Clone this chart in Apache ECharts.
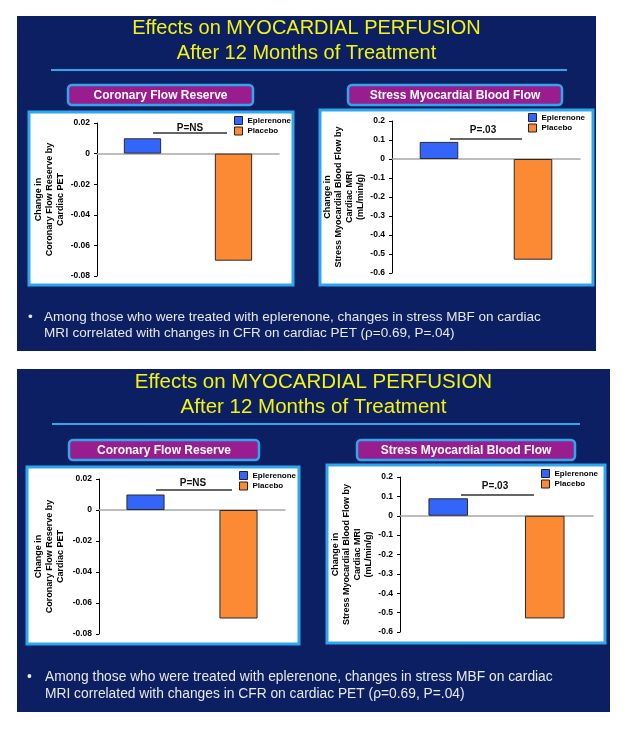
<!DOCTYPE html>
<html><head><meta charset="utf-8">
<script src="https://cdn.jsdelivr.net/npm/echarts@6/dist/echarts.min.js"></script>
<style>html,body{margin:0;padding:0;background:#fff}#c{width:643px;height:734px}</style>
</head><body><div id="c"></div>
<script>
// ---- data ----
const categories = ['Eplerenone', 'Placebo'];
const cfrValues = [0.01, -0.07];
const mbfValues = [0.09, -0.53];
const cfrAxis = { min: -0.08, max: 0.02, interval: 0.02, decimals: 2 };
const mbfAxis = { min: -0.6, max: 0.2, interval: 0.1, decimals: 1 };
const titleLines = ['Effects on MYOCARDIAL PERFUSION', 'After 12 Months of Treatment'];
const panelTitles = ['Coronary Flow Reserve', 'Stress Myocardial Blood Flow'];
const yAxisTitles = ['Change in\nCoronary Flow Reserve by\nCardiac PET',
                     'Change in\nStress Myocardial Blood Flow by\nCardiac MRI\n(mL/min/g)'];
const pLabels = ['P=NS', 'P=.03'];
const bulletLines = ['Among those who were treated with eplerenone, changes in stress MBF on cardiac',
                     'MRI correlated with changes in CFR on cardiac PET (\u03c1=0.69, P=.04)'];

// ---- layout ----
const FONT = '"Liberation Sans", Arial, sans-serif';
const NAVY = '#0b1f62', LBLUE = '#2fa7ea', PURPLE = '#9a1d8f', YELLOW = '#f4f414';
const slides = [
  { bg: [17, 16, 579, 335], titleY: [28, 53], cx: 306.5, tfs: 20, ul: [51, 567, 70],
    labels: [[68, 85, 185, 20], [348, 85, 214, 20]],
    boxes: [[29, 112, 264, 173], [320, 110, 273, 175]],
    grids: [[97, 123, 182, 153], [392, 121, 188, 152]], nameGap: [31, 24.5],
    legends: [[234, 116], [528, 113]],
    p: [[190, 128, 153, 227, 133], [483, 130, 450, 522, 139]],
    bullet: [28, 44, [317, 333], 13.5] },
  { bg: [17, 369, 593, 343], titleY: [382, 407], cx: 313.5, tfs: 20.5, ul: [52, 580, 424],
    labels: [[69, 440, 190, 20], [357, 440, 218, 20]],
    boxes: [[27, 467, 272, 177], [327, 465, 278, 178]],
    grids: [[99, 479, 186, 155], [400, 477, 193, 155]], nameGap: [32.5, 23.5],
    legends: [[239, 471], [541, 469]],
    p: [[193, 483, 156, 232, 490], [495, 486, 461, 534, 495]],
    bullet: [27, 45, [677, 694], 13.8] }
];

const graphics = [], grid = [], xAxis = [], yAxis = [], series = [], legend = [];
slides.forEach((s, si) => {
  graphics.push({ type: 'rect', z: -20, shape: { x: s.bg[0], y: s.bg[1], width: s.bg[2], height: s.bg[3] }, style: { fill: NAVY } });
  titleLines.forEach((t, i) => graphics.push({ type: 'text', z: 50, style: { text: t, x: s.cx, y: s.titleY[i], fill: YELLOW, fontFamily: FONT, fontSize: s.tfs, align: 'center', verticalAlign: 'middle' } }));
  graphics.push({ type: 'line', z: 50, shape: { x1: s.ul[0], y1: s.ul[2], x2: s.ul[1], y2: s.ul[2] }, style: { stroke: LBLUE, lineWidth: 2 } });
  s.labels.forEach((b, i) => {
    graphics.push({ type: 'rect', z: 40, shape: { x: b[0], y: b[1], width: b[2], height: b[3], r: 4 }, style: { fill: PURPLE, stroke: LBLUE, lineWidth: 2.5 } });
    graphics.push({ type: 'text', z: 50, style: { text: panelTitles[i], x: b[0] + b[2] / 2, y: b[1] + b[3] / 2 + 0.5, fill: '#fff', fontFamily: FONT, fontSize: 12, fontWeight: 'bold', align: 'center', verticalAlign: 'middle' } });
  });
  s.boxes.forEach(b => graphics.push({ type: 'rect', z: -10, shape: { x: b[0], y: b[1], width: b[2], height: b[3] }, style: { fill: '#fff', stroke: LBLUE, lineWidth: 3 } }));
  s.p.forEach((p, i) => {
    graphics.push({ type: 'text', z: 50, style: { text: pLabels[i], x: p[0], y: p[1], fill: '#111', fontFamily: FONT, fontSize: 10, fontWeight: 'bold', align: 'center', verticalAlign: 'middle' } });
    graphics.push({ type: 'line', z: 50, shape: { x1: p[2], y1: p[4], x2: p[3], y2: p[4] }, style: { stroke: '#333', lineWidth: 1.3 } });
  });
  const bl = s.bullet;
  graphics.push({ type: 'text', z: 50, style: { text: '\u2022', x: bl[0], y: bl[2][0], fill: '#e8e8e8', fontFamily: FONT, fontSize: bl[3], verticalAlign: 'middle' } });
  bulletLines.forEach((t, i) => graphics.push({ type: 'text', z: 50, style: { text: t, x: bl[1], y: bl[2][i], fill: '#e8e8e8', fontFamily: FONT, fontSize: bl[3], verticalAlign: 'middle' } }));

  s.grids.forEach((g, ci) => {
    const k = grid.length;
    const ax = ci === 0 ? cfrAxis : mbfAxis;
    const vals = ci === 0 ? cfrValues : mbfValues;
    grid.push({ left: g[0], top: g[1], width: g[2], height: g[3], containLabel: false });
    xAxis.push({ type: 'category', gridIndex: k, data: categories, axisLine: { onZero: true, lineStyle: { color: '#a8a8a8', width: 1.5 } }, axisTick: { show: false }, axisLabel: { show: false } });
    yAxis.push({ type: 'value', gridIndex: k, min: ax.min, max: ax.max, interval: ax.interval,
      splitLine: { show: false },
      axisLine: { show: true, lineStyle: { color: '#000', width: 1 } },
      axisTick: { show: true, length: 3, lineStyle: { color: '#000' } },
      axisLabel: { margin: 7, color: '#000', fontFamily: FONT, fontSize: 8.5, fontWeight: 'bold',
        formatter: v => Math.abs(v) < 1e-9 ? '0' : v.toFixed(ax.decimals) },
      name: yAxisTitles[ci], nameLocation: 'middle', nameRotate: 90, nameGap: s.nameGap[ci],
      nameTextStyle: { color: '#000', fontFamily: FONT, fontSize: 9, fontWeight: 'bold', lineHeight: 11, align: 'center' } });
    series.push({ type: 'bar', name: categories[0], xAxisIndex: k, yAxisIndex: k, stack: 's' + k, barWidth: '41%',
      data: [vals[0], '-'], itemStyle: { color: '#3465fb', borderColor: '#2a2a2a', borderWidth: 1 }, emphasis: { disabled: true } });
    series.push({ type: 'bar', name: categories[1], xAxisIndex: k, yAxisIndex: k, stack: 's' + k, barWidth: '41%',
      data: ['-', vals[1]], itemStyle: { color: '#fc8a34', borderColor: '#2a2a2a', borderWidth: 1 }, emphasis: { disabled: true } });
    legend.push({ data: categories, orient: 'vertical', left: s.legends[ci][0], top: s.legends[ci][1], padding: 0,
      itemWidth: 8, itemHeight: 8, itemGap: 1.5, itemTextGap: 6, icon: 'rect', selectedMode: false,
      itemStyle: { borderColor: '#222', borderWidth: 1 },
      textStyle: { fontFamily: FONT, fontSize: 8, fontWeight: 'bold', color: '#000', lineHeight: 8 } });
  });
});

const chart = echarts.init(document.getElementById('c'), null, { renderer: 'canvas' });
chart.setOption({ animation: false, backgroundColor: '#fff', graphic: { elements: graphics }, grid, xAxis, yAxis, series, legend });
</script></body></html>
